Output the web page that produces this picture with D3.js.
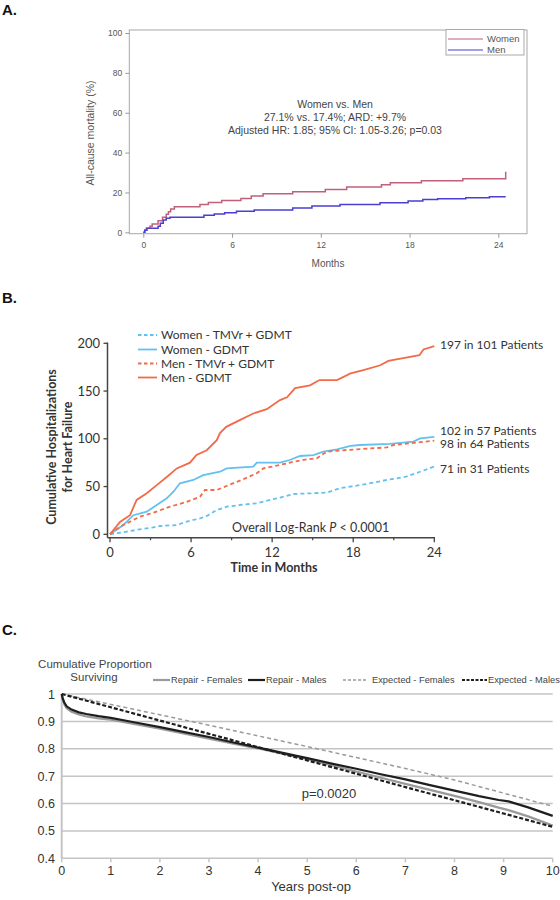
<!DOCTYPE html>
<html><head><meta charset="utf-8">
<script src="https://cdn.jsdelivr.net/npm/d3@7"></script>
<style>body{margin:0;background:#fff}svg{display:block}</style>
</head><body><svg id="c" width="560" height="900"></svg>
<script>
// ---------- Panel A data ----------
const aTicksX = [0, 6, 12, 18, 24];
const aTicksY = [0, 20, 40, 60, 80, 100];
const aWomenT = [0, 0.1, 0.2, 0.45, 0.6, 1.0, 1.3, 1.55, 1.7, 1.85, 2.1, 3.83, 4.4, 5.3, 6.6, 7.3, 8.1, 10.1, 12.3, 13.75, 16.1, 16.7, 18.8, 21.6, 24.5, 24.5];
const aWomenV = [0, 1, 2, 3, 4.2, 5.8, 7.5, 9, 10.3, 11.7, 12.8, 14, 15, 16, 17, 18.2, 19.3, 20.3, 21.5, 22.7, 23.9, 24.9, 25.9, 26.9, 26.9, 30.4];
const aMenT = [0, 0.1, 0.25, 1.0, 1.15, 1.35, 1.55, 1.8, 4.1, 4.8, 5.5, 6.3, 7.5, 10.1, 11.4, 13.3, 16.0, 17.9, 18.9, 19.9, 21.8, 23.4, 24.5];
const aMenV = [0, 1, 2, 3, 4.5, 6.2, 7, 7.5, 8.5, 9.2, 9.8, 10.5, 11.2, 12.2, 13.2, 14, 14.8, 15.7, 16.5, 16.8, 17.3, 17.8, 17.8];
const aLegend = ["Women", "Men"];
const aNote = ["Women vs. Men", "27.1% vs. 17.4%; ARD: +9.7%", "Adjusted HR: 1.85; 95% CI: 1.05-3.26; p=0.03"];

// ---------- Panel B data ----------
const bTicksX = [0, 6, 12, 18, 24];
const bMinorX = [3, 9, 15, 21];
const bTicksY = [0, 50, 100, 150, 200];
const bSeries = ["Women - TMVr + GDMT", "Women - GDMT", "Men - TMVr + GDMT", "Men - GDMT"];
const bWomenTmvrT = [0, 1.23, 2.2, 3.2, 3.7, 4.94, 5.68, 6.66, 7.16, 7.9, 8.64, 9.6, 10.86, 12.58, 13.57, 16.04, 17, 19, 20.5, 21.9, 22.95, 24];
const bWomenTmvrV = [0, 2.7, 5.2, 7.3, 8.7, 9.7, 13.2, 16.7, 19.2, 25.4, 28.9, 30.7, 32.5, 38.5, 42.2, 43.6, 48.2, 52.7, 56.9, 60.3, 65.5, 71];
const bWomenGdmtT = [0, 0.99, 1.73, 2.72, 3.46, 4.2, 4.69, 5.18, 6.17, 6.9, 8.14, 8.64, 10.6, 10.86, 12.58, 13.3, 14.06, 15.05, 15.8, 16.8, 17.8, 18.5, 20.7, 22.45, 22.95, 24];
const bWomenGdmtV = [0, 9.8, 20, 23.7, 30.7, 37.7, 44.6, 53.4, 56.9, 62, 65.5, 69, 70.8, 75, 75, 77.8, 82, 83, 86.5, 89, 92.5, 93.5, 94.6, 97, 100.5, 102];
const bMenTmvrT = [0, 0.74, 1.48, 2.2, 3.2, 4.44, 5.68, 6.66, 7.03, 7.9, 9.1, 9.87, 10.86, 11.35, 12.58, 13.57, 14.56, 15.3, 16.04, 17.5, 20.5, 21, 22.7, 24];
const bMenTmvrV = [0, 8, 13.2, 18.4, 22.6, 28.9, 34, 39.4, 46.4, 46.4, 53.4, 57.6, 63.9, 69, 72.6, 76, 78.5, 79.6, 86.5, 88.3, 91, 93.5, 96, 98];
const bMenGdmtT = [0, 0.74, 1.48, 1.97, 2.72, 3.46, 4.2, 4.94, 5.92, 6.4, 7.16, 7.9, 8.14, 8.6, 9.6, 10.6, 11.6, 12.58, 13.1, 13.7, 14.8, 15.5, 16.8, 17.8, 18.75, 20, 20.6, 21.5, 22.9, 23.2, 24];
const bMenGdmtV = [0, 13, 20, 36, 43, 51.5, 60, 69, 75, 83, 88, 98.5, 106, 112.5, 119.5, 126.5, 131, 140.5, 143.5, 153, 156, 161.5, 161.5, 168.5, 172, 177, 181.5, 184, 187.5, 193.5, 197];
const bEndLabels = ["71 in 31 Patients", "102 in 57 Patients", "98 in 64 Patients", "197 in 101 Patients"];

// ---------- Panel C data ----------
const cTicksX = [0, 1, 2, 3, 4, 5, 6, 7, 8, 9, 10];
const cTicksY = [0.4, 0.5, 0.6, 0.7, 0.8, 0.9, 1];
const cSeries = ["Repair - Females", "Repair - Males", "Expected - Females", "Expected - Males"];
const cRepairT = [0, 0.02, 0.05, 0.1, 0.2, 0.35, 0.5, 0.75, 1, 1.5, 2, 2.5, 3, 3.5, 4, 4.5, 5, 5.5, 6, 6.5, 7, 7.5, 8, 8.5, 8.9, 9.1, 9.5, 10];
const cRepairMalesV = [1, 0.985, 0.97, 0.955, 0.943, 0.933, 0.927, 0.919, 0.913, 0.896, 0.879, 0.861, 0.843, 0.823, 0.804, 0.785, 0.766, 0.746, 0.727, 0.707, 0.688, 0.667, 0.647, 0.627, 0.613, 0.608, 0.586, 0.555];
const cRepairFemalesV = [1, 0.98, 0.963, 0.948, 0.935, 0.925, 0.918, 0.911, 0.906, 0.89, 0.873, 0.855, 0.837, 0.819, 0.801, 0.782, 0.762, 0.74, 0.717, 0.694, 0.672, 0.65, 0.628, 0.605, 0.585, 0.576, 0.553, 0.52];
const cExpT = [0, 1, 2, 3, 4, 5, 6, 7, 8, 9, 10];
const cExpMalesV = [1, 0.9515, 0.903, 0.8545, 0.806, 0.7575, 0.709, 0.66, 0.612, 0.5635, 0.515];
const cExpFemalesV = [1, 0.962, 0.924, 0.886, 0.847, 0.808, 0.768, 0.728, 0.686, 0.638, 0.59];

const svg = d3.select("#c");
const zip = (t, v) => t.map((d, i) => [d, v[i]]);

// Panel letters
[["A.", 15], ["B.", 303], ["C.", 635]].forEach(([s, y]) =>
  svg.append("text").attr("x", 2).attr("y", y).text(s)
    .attr("font-family", "Liberation Sans, Arial, sans-serif").attr("font-weight", "bold").attr("font-size", 15).attr("fill", "#111"));

// ================= Panel A =================
(function () {
  const F = "Liberation Sans, Arial, sans-serif";
  const x = d3.scaleLinear().domain([0, 24]).range([143.3, 498.3]);
  const y = d3.scaleLinear().domain([0, 100]).range([232.3, 33]);
  const g = svg.append("g");
  const L = 129.3, R = 527, T = 30, B = 233.7;
  g.append("rect").attr("x", L).attr("y", T).attr("width", R - L).attr("height", B - T)
    .attr("fill", "none").attr("stroke", "#a8a8a8").attr("stroke-width", 1);
  const ax = g.append("g").attr("transform", `translate(0,${B})`)
    .call(d3.axisBottom(x).tickValues(aTicksX).tickSize(4).tickPadding(4));
  const ay = g.append("g").attr("transform", `translate(${L},0)`)
    .call(d3.axisLeft(y).tickValues(aTicksY).tickSize(4).tickPadding(3));
  [ax, ay].forEach(a => {
    a.select(".domain").remove();
    a.selectAll("line").attr("stroke", "#999");
    a.selectAll("text").attr("font-family", F).attr("font-size", 8.5).attr("fill", "#555");
  });
  g.append("text").attr("x", 328).attr("y", 266.5).attr("text-anchor", "middle")
    .attr("font-family", F).attr("font-size", 10).attr("fill", "#555").text("Months");
  g.append("text").attr("transform", "translate(94,133) rotate(-90)").attr("text-anchor", "middle")
    .attr("font-family", F).attr("font-size", 10.5).attr("fill", "#555").text("All-cause mortality (%)");
  const line = d3.line().x(d => x(d[0])).y(d => y(d[1])).curve(d3.curveStepAfter);
  g.append("path").datum(zip(aWomenT, aWomenV)).attr("d", line).attr("fill", "none")
    .attr("stroke", "#c0607a").attr("stroke-width", 1.5);
  g.append("path").datum(zip(aMenT, aMenV)).attr("d", line).attr("fill", "none")
    .attr("stroke", "#4a3fd0").attr("stroke-width", 1.5);
  // legend
  g.append("rect").attr("x", 446).attr("y", 29.5).attr("width", 78).attr("height", 25.5)
    .attr("fill", "#fff").attr("stroke", "#aaa").attr("stroke-width", 1);
  const lc = ["#c0607a", "#4a3fd0"];
  aLegend.forEach((s, i) => {
    const yy = 39 + i * 11;
    g.append("line").attr("x1", 448).attr("x2", 483).attr("y1", yy).attr("y2", yy).attr("stroke", lc[i]).attr("stroke-width", 1.2);
    g.append("text").attr("x", 487).attr("y", yy + 3.3).attr("font-family", F).attr("font-size", 9.5).attr("fill", "#555").text(s);
  });
  aNote.forEach((s, i) => g.append("text").attr("x", 335).attr("y", 107.5 + i * 13).attr("text-anchor", "middle")
    .attr("font-family", F).attr("font-size", 10.5).attr("fill", "#444").text(s));
})();

// ================= Panel B =================
(function () {
  const F = "Lato, 'Open Sans', sans-serif";
  const x = d3.scaleLinear().domain([0, 24]).range([110, 434.3]);
  const y = d3.scaleLinear().domain([0, 200]).range([534.3, 343.3]);
  const g = svg.append("g");
  const axY = 537.7, axX = 107.5;
  const blue = "#62c1ef", orange = "#f26a48";
  g.append("line").attr("x1", axX).attr("x2", axX).attr("y1", 342.5).attr("y2", axY).attr("stroke", "#444").attr("stroke-width", 1.5);
  g.append("line").attr("x1", axX).attr("x2", 435).attr("y1", axY).attr("y2", axY).attr("stroke", "#444").attr("stroke-width", 1.5);
  bTicksY.forEach(v => {
    g.append("line").attr("x1", axX - 4).attr("x2", axX).attr("y1", y(v)).attr("y2", y(v)).attr("stroke", "#444").attr("stroke-width", 1.3);
    g.append("text").attr("x", 100).attr("y", y(v) + 4.5).attr("text-anchor", "end").attr("font-family", F).attr("font-size", 13).attr("fill", "#333").text(v);
  });
  bTicksX.forEach(v => {
    g.append("line").attr("x1", x(v)).attr("x2", x(v)).attr("y1", axY).attr("y2", axY + 4.5).attr("stroke", "#444").attr("stroke-width", 1.3);
    g.append("text").attr("x", x(v)).attr("y", 556.5).attr("text-anchor", "middle").attr("font-family", F).attr("font-size", 13).attr("fill", "#333").text(v);
  });
  bMinorX.forEach(v => g.append("line").attr("x1", x(v)).attr("x2", x(v)).attr("y1", axY).attr("y2", axY + 2.5).attr("stroke", "#444").attr("stroke-width", 1.2));
  g.append("text").attr("x", 274).attr("y", 572).attr("text-anchor", "middle").attr("font-family", F).attr("font-weight", "bold").attr("font-size", 12.5).attr("fill", "#333").text("Time in Months");
  const yl = g.append("text").attr("transform", "translate(0,447) rotate(-90)").attr("text-anchor", "middle")
    .attr("font-family", F).attr("font-weight", "bold").attr("font-size", 12.5).attr("fill", "#333");
  yl.append("tspan").attr("x", 0).attr("y", 56).text("Cumulative Hospitalizations");
  yl.append("tspan").attr("x", 0).attr("y", 72).text("for Heart Failure");

  const line = d3.line().x(d => x(d[0])).y(d => y(d[1]));
  const data = [zip(bWomenTmvrT, bWomenTmvrV), zip(bWomenGdmtT, bWomenGdmtV), zip(bMenTmvrT, bMenTmvrV), zip(bMenGdmtT, bMenGdmtV)];
  const cols = [blue, blue, orange, orange];
  const dash = ["4,3", null, "4,3", null];
  data.forEach((d, i) => g.append("path").datum(d).attr("d", line).attr("fill", "none")
    .attr("stroke", cols[i]).attr("stroke-width", 1.8).attr("stroke-dasharray", dash[i]));
  // legend
  const ly = [335, 349.5, 363.5, 377.5];
  bSeries.forEach((s, i) => {
    g.append("line").attr("x1", 138).attr("x2", 157).attr("y1", ly[i]).attr("y2", ly[i]).attr("stroke", cols[i]).attr("stroke-width", 1.8).attr("stroke-dasharray", dash[i] ? "3.5,2.5" : null);
    g.append("text").attr("x", 161).attr("y", ly[i] + 4.3).attr("font-family", F).attr("font-size", 12).attr("fill", "#333").text(s);
  });
  const ely = [468.3, 430.7, 444, 344.3];
  bEndLabels.forEach((s, i) => g.append("text").attr("x", 440).attr("y", ely[i] + 4.3).attr("font-family", F).attr("font-size", 12).attr("fill", "#333").text(s));
  const t = g.append("text").attr("x", 232).attr("y", 531.5).attr("font-family", F).attr("font-size", 12.5).attr("fill", "#333");
  t.append("tspan").text("Overall Log-Rank ");
  t.append("tspan").attr("font-style", "italic").text("P");
  t.append("tspan").text(" < 0.0001");
})();

// ================= Panel C =================
(function () {
  const F = "Liberation Sans, Arial, sans-serif";
  const x = d3.scaleLinear().domain([0, 10]).range([61.7, 552.7]);
  const y = d3.scaleLinear().domain([0.4, 1]).range([858.3, 694]);
  const g = svg.append("g");
  cTicksY.forEach(v => {
    g.append("line").attr("x1", x(0)).attr("x2", x(10)).attr("y1", y(v)).attr("y2", y(v)).attr("stroke", "#c4c4c4").attr("stroke-width", 1.5);
    g.append("text").attr("x", 55).attr("y", y(v) + 4.5).attr("text-anchor", "end").attr("font-family", F).attr("font-size", 12.5).attr("fill", "#333").text(v);
  });
  g.append("line").attr("x1", x(0)).attr("x2", x(0)).attr("y1", y(1)).attr("y2", y(0.4)).attr("stroke", "#c4c4c4").attr("stroke-width", 2);
  cTicksX.forEach(v => {
    g.append("line").attr("x1", x(v)).attr("x2", x(v)).attr("y1", y(0.4)).attr("y2", y(0.4) + 4).attr("stroke", "#c4c4c4").attr("stroke-width", 1.5);
    g.append("text").attr("x", x(v)).attr("y", 874.5).attr("text-anchor", "middle").attr("font-family", F).attr("font-size", 12.5).attr("fill", "#333").text(v);
  });
  g.append("text").attr("x", 311).attr("y", 891).attr("text-anchor", "middle").attr("font-family", F).attr("font-size", 13).attr("fill", "#333").text("Years post-op");
  g.append("text").attr("x", 95).attr("y", 668).attr("text-anchor", "middle").attr("font-family", F).attr("font-size", 11.5).attr("fill", "#444").text("Cumulative Proportion");
  g.append("text").attr("x", 94).attr("y", 681).attr("text-anchor", "middle").attr("font-family", F).attr("font-size", 11.5).attr("fill", "#444").text("Surviving");
  g.append("text").attr("x", 301.7).attr("y", 798).attr("font-family", F).attr("font-size", 13).attr("fill", "#333").text("p=0.0020");

  const line = d3.line().x(d => x(d[0])).y(d => y(d[1]));
  const data = [zip(cRepairT, cRepairFemalesV), zip(cRepairT, cRepairMalesV), zip(cExpT, cExpFemalesV), zip(cExpT, cExpMalesV)];
  const cols = ["#9a9a9a", "#1e1e1e", "#9a9a9a", "#1e1e1e"];
  const w = [2.2, 2.2, 1.5, 2.2];
  const dash = [null, null, "4,3", "4,2"];
  [2, 0, 3, 1].forEach(i => g.append("path").datum(data[i]).attr("d", line).attr("fill", "none")
    .attr("stroke", cols[i]).attr("stroke-width", w[i]).attr("stroke-dasharray", dash[i]));
  // legend
  const lx = [[153, 170, 171], [248, 265, 266], [343, 368, 372], [462, 487, 488]];
  const lyy = 680;
  cSeries.forEach((s, i) => {
    g.append("line").attr("x1", lx[i][0]).attr("x2", lx[i][1]).attr("y1", lyy).attr("y2", lyy)
      .attr("stroke", cols[i]).attr("stroke-width", w[i]).attr("stroke-dasharray", dash[i] ? (i === 2 ? "3,2" : "3,1.5") : null);
    g.append("text").attr("x", lx[i][2]).attr("y", lyy + 3.3).attr("font-family", F).attr("font-size", 9.3).attr("fill", "#444").text(s);
  });
})();
</script></body></html>
